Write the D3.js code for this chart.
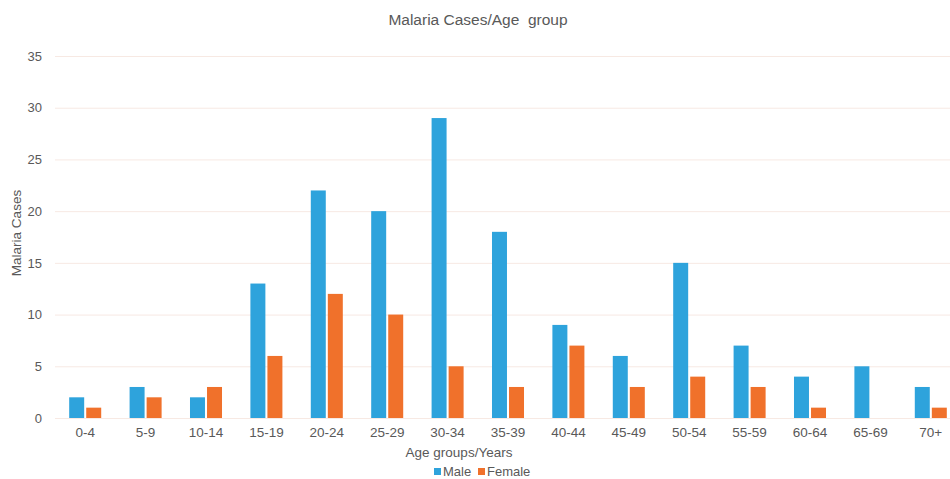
<!DOCTYPE html>
<html><head><meta charset="utf-8">
<script src="https://cdn.jsdelivr.net/npm/d3@7"></script>
<style>body{margin:0;background:#fff;overflow:hidden}svg{display:block;font-family:"Liberation Sans",Arial,sans-serif}</style>
</head><body><svg id="c" width="950" height="479"></svg>
<script>
const categories=["0-4","5-9","10-14","15-19","20-24","25-29","30-34","35-39","40-44","45-49","50-54","55-59","60-64","65-69","70+"];
const seriesNames=["Male","Female"];
const male=[2,3,2,13,22,20,29,18,9,6,15,7,4,5,3];
const female=[1,2,3,6,12,10,5,3,7,3,4,3,1,0,1];
const yTicks=[0,5,10,15,20,25,30,35];
const colors=["#2ea3dc","#f0712b"];

const svg=d3.select("#c");
const W=950,H=479;
const m={l:55,t:56,b:61};
const plotRight=961;
const x0=d3.scaleBand().domain(categories).range([m.l,plotRight]).paddingInner(0.47).paddingOuter(0.235);
const x1=d3.scaleBand().domain(seriesNames).range([0,x0.bandwidth()]).paddingInner(0.12);
const y=d3.scaleLinear().domain([0,35]).range([H-m.b,m.t]);

const ya=d3.axisLeft(y).tickValues(yTicks).tickSize(-(W-m.l)).tickPadding(13);
const gy=svg.append("g").attr("transform",`translate(${m.l},0)`).call(ya);
gy.select(".domain").remove();
gy.selectAll(".tick line").attr("stroke","#f7e9e3");
gy.selectAll(".tick text").attr("fill","#595959").style("font-size","13px");

const xa=d3.axisBottom(x0).tickSize(0).tickPadding(9);
const gx=svg.append("g").attr("transform",`translate(0,${H-m.b})`).call(xa);
gx.select(".domain").attr("stroke","#f7e9e3");
gx.selectAll(".tick text").attr("fill","#595959").style("font-size","13.5px");

const data=categories.map((c,i)=>({c,vals:[male[i],female[i]]}));
const g=svg.append("g");
data.forEach(d=>{
  d.vals.forEach((v,j)=>{
    if(v<=0) return;
    g.append("rect").attr("x",x0(d.c)+x1(seriesNames[j])).attr("width",x1.bandwidth())
     .attr("y",y(v)).attr("height",y(0)-y(v)).attr("fill",colors[j]);
  });
});

svg.append("text").attr("x",478).attr("y",25).attr("text-anchor","middle").attr("fill","#595959")
  .style("font-size","15.5px").style("white-space","pre").text("Malaria Cases/Age  group");
svg.append("text").attr("transform","translate(21,233) rotate(-90)").attr("text-anchor","middle")
  .attr("fill","#595959").style("font-size","13.5px").text("Malaria Cases");
svg.append("text").attr("x",459).attr("y",457).attr("text-anchor","middle").attr("fill","#595959")
  .style("font-size","13.5px").text("Age groups/Years");

const lg=svg.append("g");
const lx=[434,478];
seriesNames.forEach((s,j)=>{
  lg.append("rect").attr("x",lx[j]).attr("y",468).attr("width",7).attr("height",7).attr("fill",colors[j]);
  lg.append("text").attr("x",lx[j]+9).attr("y",476).attr("fill","#595959").style("font-size","13px").text(s);
});
</script></body></html>
